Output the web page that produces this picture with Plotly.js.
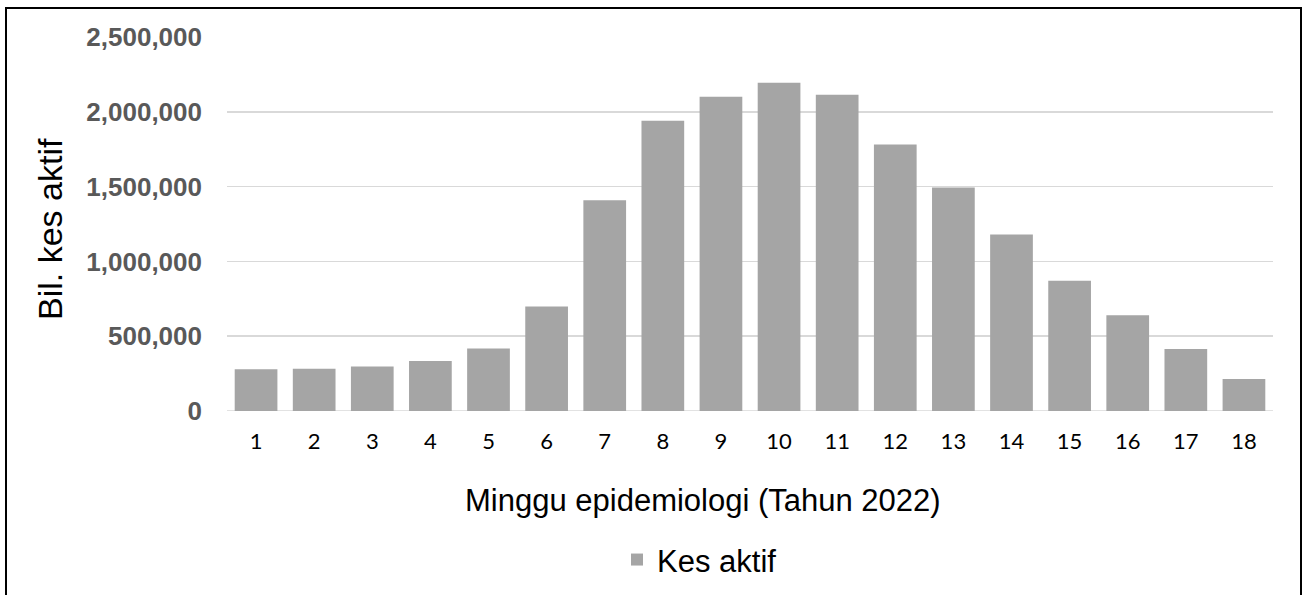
<!DOCTYPE html>
<html>
<head>
<meta charset="utf-8">
<script src="https://cdn.plot.ly/plotly-3.0.1.min.js"></script>
<style>
  html, body { margin: 0; padding: 0; background: #fff; }
  #wrap { position: relative; width: 1306px; height: 595px; overflow: hidden; }
  #chart { position: absolute; left: 0; top: 0; width: 1306px; height: 595px; }
  #frame { position: absolute; left: 5px; top: 7px; width: 1293px; height: 600px; border: 2px solid #000; pointer-events: none; }
</style>
</head>
<body>
<div id="wrap">
  <div id="chart"></div>
  <div id="frame"></div>
</div>
<script>
const weeks = ["1","2","3","4","5","6","7","8","9","10","11","12","13","14","15","16","17","18"];
const activeCases = [279000, 283000, 297000, 334000, 417000, 698000, 1409000, 1940000, 2100000, 2194000, 2114000, 1782000, 1494000, 1180000, 870000, 640000, 414000, 214000];
const seriesName = "Kes aktif";
const yTickVals = [0, 500000, 1000000, 1500000, 2000000, 2500000];
const yTickText = ["0", "500,000", "1,000,000", "1,500,000", "2,000,000", "2,500,000"];
const xTitle = "Minggu epidemiologi (Tahun 2022)";
const yTitle = "Bil. kes aktif";

const W = 1306, H = 595;

const trace = {
  type: "bar",
  x: weeks,
  y: activeCases,
  name: seriesName,
  marker: { color: "#a5a5a5" },
  hoverinfo: "x+y"
};

const layout = {
  width: W,
  height: H,
  margin: { l: 227, r: 33, t: 37, b: 184 },
  paper_bgcolor: "#ffffff",
  plot_bgcolor: "#ffffff",
  bargap: 0.265,
  showlegend: true,
  legend: {
    orientation: "h",
    xref: "container", yref: "container",
    x: 617 / W, xanchor: "left",
    y: 0.059, yanchor: "middle",
    font: { family: "Liberation Sans, Arial, sans-serif", size: 31, color: "#000" },
    bgcolor: "rgba(0,0,0,0)"
  },
  xaxis: {
    type: "category",
    tickfont: { family: "Lato, sans-serif", size: 22, color: "#000" },
    ticks: "",
    showgrid: false,
    showline: false,
    zeroline: false,
    ticklabelstandoff: 15,
    automargin: false
  },
  yaxis: {
    range: [0, 2500000],
    tickvals: yTickVals,
    ticktext: yTickText,
    tickfont: { family: "Liberation Sans, Arial, sans-serif", size: 26, color: "#595959", weight: "bold" },
    ticks: "",
    showgrid: true,
    gridcolor: "#d9d9d9",
    gridwidth: 1.5,
    zeroline: false,
    showline: false,
    ticklabelstandoff: 24,
    automargin: false
  },
  annotations: [
    {
      text: xTitle,
      xref: "paper", yref: "paper",
      x: (703 - 227) / (W - 227 - 33), xanchor: "center",
      y: -(500 - 411) / (411 - 37), yanchor: "middle",
      showarrow: false,
      font: { family: "Liberation Sans, Arial, sans-serif", size: 31, color: "#000" }
    },
    {
      text: yTitle,
      textangle: -90,
      xref: "paper", yref: "paper",
      x: -(227 - 50) / (W - 227 - 33), xanchor: "center",
      y: (411 - 229) / (411 - 37), yanchor: "middle",
      showarrow: false,
      font: { family: "Liberation Sans, Arial, sans-serif", size: 34, color: "#000" }
    }
  ],
  shapes: [{
    type: "line", xref: "paper", yref: "y",
    x0: 0, x1: 1, y0: 0, y1: 0,
    line: { color: "#d9d9d9", width: 1.5 },
    layer: "below"
  }]
};

Plotly.newPlot("chart", [trace], layout, { displayModeBar: false, staticPlot: true });
</script>
</body>
</html>
